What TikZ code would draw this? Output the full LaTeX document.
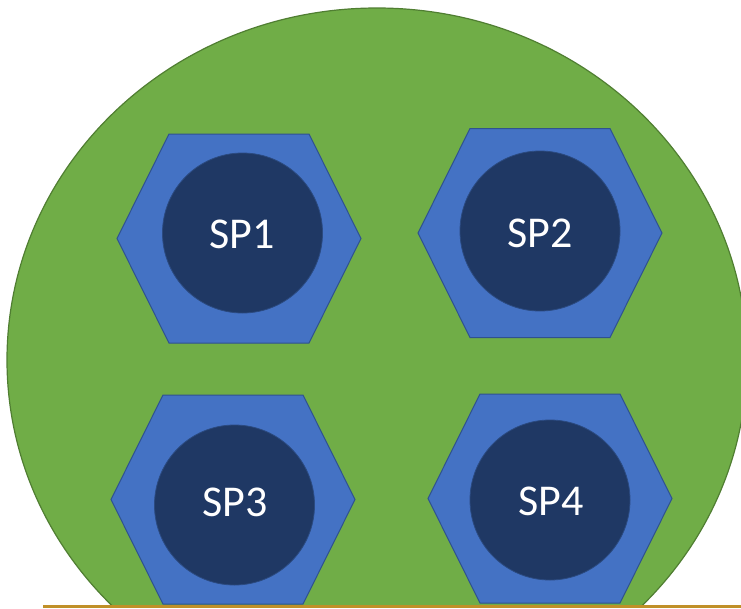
\documentclass[tikz,border=0pt]{standalone}
\usepackage{fontspec}
\setmainfont{Carlito}
\definecolor{leaf}{HTML}{70AD47}
\definecolor{leafedge}{HTML}{507E32}
\definecolor{nutblue}{HTML}{4472C4}
\definecolor{nutedge}{HTML}{2F528F}
\definecolor{core}{HTML}{1F3864}
\definecolor{coreedge}{HTML}{2B4A80}
\definecolor{rail}{HTML}{C09028}
\tikzset{
  plate/.style={fill=leaf, draw=leafedge, line width=1.2pt},
  nut/.style={fill=nutblue, draw=nutedge, line width=1pt, line join=miter},
  corecircle/.style={circle, fill=core, draw=coreedge, line width=0.8pt,
    minimum size=160pt, inner sep=0pt},
  sptext/.style={text=white, font=\fontsize{44}{48}\selectfont, anchor=base, inner sep=0pt},
  railline/.style={draw=rail, line width=2.2pt}
}
% hexagonal nut: centre (x,y), half width 122, half height 104.5, flat top of length 140
\newcommand\hexnut[3]{%
  \path[nut] (#1-70,#2-104.5) -- (#1+70,#2-104.5) -- (#1+122,#2)
    -- (#1+70,#2+104.5) -- (#1-70,#2+104.5) -- (#1-122,#2) -- cycle;
  \coordinate (#3) at (#1,#2);}
\begin{document}
\begin{tikzpicture}[x=1pt,y=-1pt]
\useasboundingbox (0,0) rectangle (741,608);
\begin{scope}
  \clip (0,0) rectangle (741,605.5);
  \path[plate] (377,360) ellipse [x radius=370, y radius=352];
  \hexnut{239}{238.5}{hex1}
  \hexnut{540}{233}{hex2}
  \hexnut{233}{499.5}{hex3}
  \hexnut{550}{498.5}{hex4}
  \node[corecircle] (c1) at (242.5,233) {};
  \node[corecircle] (c2) at (540,231) {};
  \node[corecircle] (c3) at (234.5,505) {};
  \node[corecircle] (c4) at (550,500) {};
\end{scope}
\node[sptext] (sp1) at (242,248) {SP1};
\node[sptext] (sp2) at (540,247) {SP2};
\node[sptext] (sp3) at (235,516.5) {SP3};
\node[sptext] (sp4) at (551,515) {SP4};
\coordinate (railstart) at (43,606.5);
\coordinate (railend) at (741,606.5);
\draw[railline] (railstart) -- (railend);
\end{tikzpicture}
\end{document}
